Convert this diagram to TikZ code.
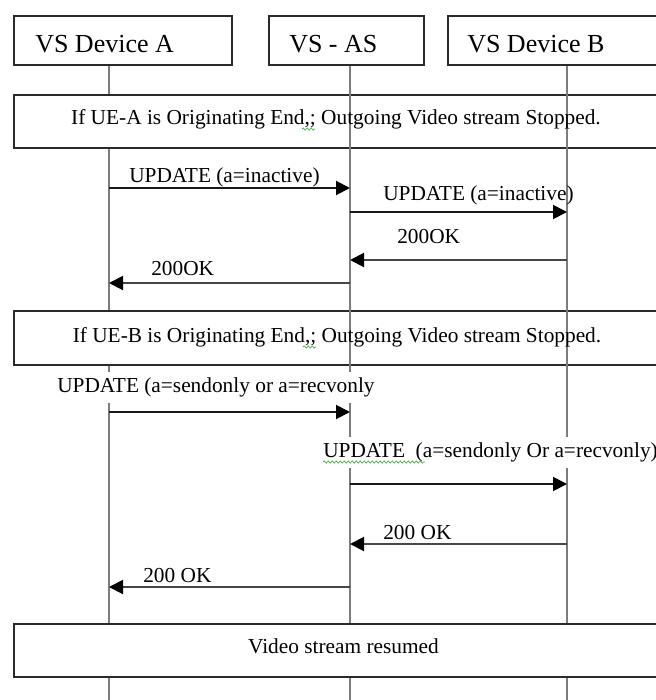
\documentclass[tikz,border=0pt]{standalone}
\usepackage{fontspec}
\setmainfont{Liberation Serif}
\usetikzlibrary{arrows.meta,decorations.pathmorphing}
\definecolor{lifegray}{HTML}{7C7C7C}
\definecolor{boxline}{HTML}{2A2A2A}
\definecolor{spell}{HTML}{3CAA3C}
\begin{document}
\begin{tikzpicture}[x=0.75pt,y=-0.75pt,
  lifeline/.style={draw=lifegray,line width=2.1pt},
  framebox/.style={draw=boxline,line width=1.3pt,fill=white,inner sep=0pt,anchor=north west},
  titletext/.style={font=\fontsize{19.5}{23}\selectfont,anchor=base west,inner sep=0pt},
  boxtext/.style={font=\fontsize{16}{19}\selectfont,anchor=base,inner sep=0pt},
  msgtext/.style={font=\fontsize{16}{19}\selectfont,anchor=base west,inner sep=0pt},
  masked/.style={msgtext,fill=white,inner xsep=1.5pt,inner ysep=0pt,text height=15pt,text depth=8pt},
  msg/.style={draw=black!90,line width=1.5pt,-{Triangle[length=10.5pt,width=10.5pt,color=black]}},
  reply/.style={msg,draw=black!72},
  spellmark/.style={draw=spell,line width=0.5pt,decorate,decoration={snake,segment length=3pt,amplitude=0.8pt}}
]
\useasboundingbox (0,0) rectangle (656,700);
\fill[white] (0,0) rectangle (656,700);

% lifeline end points
\coordinate (Atop) at (109,64);  \coordinate (Abot) at (109,702);
\coordinate (Stop) at (350,64);  \coordinate (Sbot) at (350,702);
\coordinate (Btop) at (567,64);  \coordinate (Bbot) at (567,702);

% lifeline of A lies under the condition boxes
\draw[lifeline] (Atop) -- (Abot);

% condition boxes 1 and 2
\node[framebox,minimum width=492.75pt,minimum height=39.75pt] (cond1) at (13,94) {};
\node[framebox,minimum width=492.75pt,minimum height=40.5pt] (cond2) at (13,310) {};

% lifelines of AS and B pass over boxes 1 and 2
\draw[lifeline] (Stop) -- (Sbot);
\draw[lifeline] (Btop) -- (Bbot);

% condition box 3 covers all lifelines
\node[framebox,minimum width=492.75pt,minimum height=39.75pt] (cond3) at (13,623) {};

% participant boxes
\node[framebox,minimum width=163.5pt,minimum height=36.75pt] (devA) at (13,15) {};
\node[framebox,minimum width=116.25pt,minimum height=36.75pt] (devS) at (268,15) {};
\node[framebox,minimum width=167.25pt,minimum height=36.75pt] (devB) at (447,15) {};
\node[titletext] (devAtxt) at (35,52) {VS Device A};
\node[titletext] (devStxt) at (289,52) {VS - AS};
\node[titletext] (devBtxt) at (467,52) {VS Device B};

% condition texts
\node[boxtext] (cond1txt) at (336,124) {If UE-A is Originating End,; Outgoing Video stream Stopped.};
\node[boxtext] (cond2txt) at (337,342) {If UE-B is Originating End,; Outgoing Video stream Stopped.};
\node[boxtext] (cond3txt) at (343.5,653) {Video stream resumed};

% message points
\coordinate (A1) at (109,188); \coordinate (S1) at (350,188);
\coordinate (S2) at (350,212); \coordinate (B2) at (567,212);
\coordinate (B3) at (567,260); \coordinate (S3) at (350,260);
\coordinate (S4) at (350,283); \coordinate (A4) at (109,283);
\coordinate (A5) at (109,412); \coordinate (S5) at (350,412);
\coordinate (S6) at (350,484); \coordinate (B6) at (567,484);
\coordinate (B7) at (567,544); \coordinate (S7) at (350,544);
\coordinate (S8) at (350,587); \coordinate (A8) at (109,587);

% labels
\node[msgtext] (m1) at (129,182) {UPDATE (a=inactive)};
\node[msgtext] (m2) at (383,200) {UPDATE (a=inactive)};
\node[msgtext] (m3) at (397,243) {200OK};
\node[msgtext] (m4) at (151,275) {200OK};
\node[masked] (m5) at (55,392) {UPDATE (a=sendonly or a=recvonly};
\node[masked] (m6) at (321,457) {UPDATE\ \ (a=sendonly Or a=recvonly)};
\node[msgtext] (m7) at (383,539) {200 OK};
\node[msgtext] (m8) at (143,582) {200 OK};

% spelling marks
\draw[spellmark] (302,129) -- (315,129);
\draw[spellmark] (303,347) -- (316,347);
\draw[spellmark] (323,462) -- (425,462);

% messages
\draw[msg] (A1) -- (S1);
\draw[msg] (S2) -- (B2);
\draw[reply] (B3) -- (S3);
\draw[reply] (S4) -- (A4);
\draw[msg] (A5) -- (S5);
\draw[msg] (S6) -- (B6);
\draw[reply] (B7) -- (S7);
\draw[reply] (S8) -- (A8);
\end{tikzpicture}
\end{document}
